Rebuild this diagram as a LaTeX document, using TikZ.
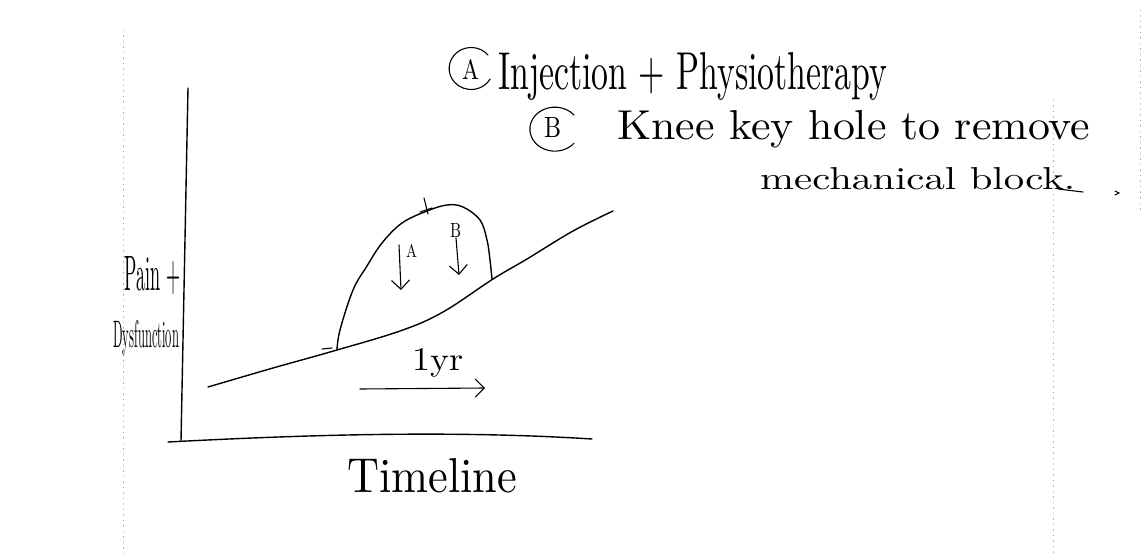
\documentclass[tikz,border=0pt]{standalone}
\usepackage{graphicx}
\usetikzlibrary{arrows.meta}
\begin{document}
\begin{tikzpicture}[x=1pt,y=-1pt,
  ink/.style={line width=1.4pt,line cap=round,line join=round},
  thinink/.style={line width=1.1pt,line cap=round},
  barb/.style={-{Straight Barb[length=9pt,width=18pt,line width=1.1pt]}},
  hand/.style={inner sep=0pt,anchor=base west},
  scan/.style={gray!60,line width=0.6pt,dash pattern=on 1.5pt off 4pt}]
\useasboundingbox (0,0) rectangle (1142,556);
% scan artefacts
\draw[scan] (123,30) -- (123,556);
\draw[scan] (1053,100) -- (1053,556);
\draw[scan] (1140,10) -- (1140,210);
% axes
\coordinate (ytop) at (188,88);
\coordinate (origin) at (181,441);
\coordinate (xend) at (592,439);
\draw[ink] (ytop) -- (origin);
\draw[ink] (168,442) .. controls (300,435) and (450,430) .. (xend);
% baseline curve
\draw[ink] plot[smooth,tension=0.6] coordinates {(208,387) (273,368) (330,352) (400,331) (443,312) (493,279) (527,259) (573,231) (613,211)};
% bump
\draw[ink] plot[smooth,tension=0.6] coordinates {(337,350) (340,330) (353,290) (367,266) (382,243) (402,223) (427,211) (447,205) (463,207) (480,220) (487,240) (490,260) (492,279)};
\draw[thinink] (322,349) -- (332,348);
\draw[thinink] (424,198) -- (428,214);
\draw[thinink] (420,212) -- (432,208);
% arrows A and B
\coordinate (atop) at (399,245);
\coordinate (atip) at (401,290);
\coordinate (btop) at (456,238);
\coordinate (btip) at (459,275);
\draw[thinink,barb] (atop) -- (atip);
\draw[thinink,barb] (btop) -- (btip);
\node[hand] (la) at (406,257) {\resizebox{11pt}{13pt}{A}};
\node[hand] (lb) at (450,237) {\resizebox{11pt}{14pt}{B}};
% 1yr arrow
\coordinate (ys) at (360,389);
\coordinate (ye) at (485,388);
\draw[thinink,barb] (ys) -- (ye);
\node[hand] (yr) at (412,370) {\resizebox{51pt}{22pt}{1yr}};
% axis labels
\node[hand] (tl) at (347,492) {\resizebox{170pt}{34pt}{Timeline}};
\node[hand] (pn) at (124,290) {\resizebox{56pt}{34pt}{Pain +}};
\node[hand] (dy) at (113,347) {\resizebox{66pt}{27pt}{Dysfunction}};
% top notes
\draw[thinink] (488,55) arc[start angle=40,end angle=330,x radius=22pt,y radius=21pt];
\node[hand] (ca) at (462,80) {\resizebox{17pt}{20pt}{A}};
\node[hand] (t1) at (498,90) {\resizebox{389pt}{37pt}{Injection + Physiotherapy}};
\draw[thinink] (574,115) arc[start angle=40,end angle=320,x radius=25pt,y radius=22pt];
\node[hand] (cb) at (544,138) {\resizebox{17pt}{20pt}{B}};
\node[hand] (t2) at (617,140) {\resizebox{473pt}{29pt}{Knee key hole to remove}};
\node[hand] (t3) at (760,190) {\resizebox{315pt}{22pt}{mechanical block.}};
\draw[thinink] (1058,189) -- (1083,192);
\draw[thinink] (1115,191) -- (1119,193) -- (1115,195);
\end{tikzpicture}
\end{document}
